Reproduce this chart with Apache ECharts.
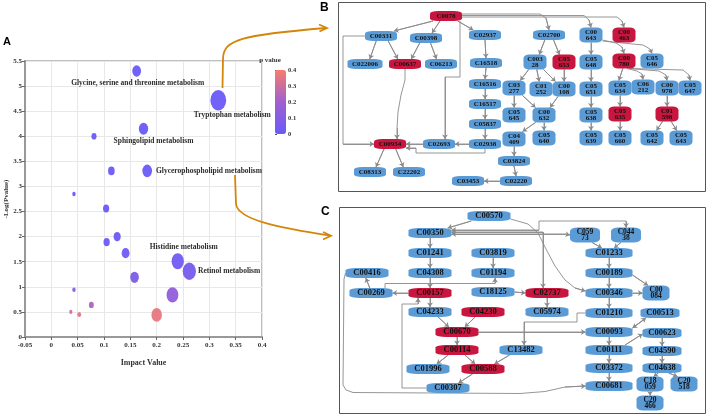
<!DOCTYPE html>
<html><head><meta charset="utf-8">
<script src="https://cdn.jsdelivr.net/npm/echarts@6/dist/echarts.min.js"></script>
<style>html,body{margin:0;padding:0;background:#fff}#c{width:708px;height:416px}</style>
</head><body><div id="c"></div>
<script>
// ---------------- Panel A data ----------------
const impactValues = [0.162,0.317,0.175,0.081,0.114,0.182,0.043,0.104,0.105,0.125,0.141,0.240,0.262,0.158,0.230,0.043,0.076,0.200,0.053,0.037];
const negLogP      = [5.30,4.72,4.15,4.00,3.31,3.31,2.85,2.56,1.89,2.00,1.67,1.51,1.31,1.19,0.84,0.94,0.64,0.44,0.45,0.50];
const pathwayNames = ['Glycine, serine and threonine metabolism','Tryptophan metabolism','Sphingolipid metabolism','','','Glycerophospholipid metabolism','','','','','','Histidine metabolism','Retinol metabolism','','','','','','',''];

// ---------------- Panel B network ----------------
const bLabels = ['C0078','C00331','C00398','C02937','C022006','C00637','C06213','C16518','C16516','C16517','C05837','C02938','C02693','C00954','C08313','C22202','C03453','C02220','C03824','C02700',
 'C00\n643','C00\n463','C003\n28','C05\n653','C05\n648','C00\n780','C05\n646','C03\n277','C01\n252','C00\n108','C05\n651','C05\n634','C06\n212','C00\n978','C05\n647','C05\n645','C00\n632','C05\n638','C05\n635','C01\n598','C04\n409','C05\n640','C05\n639','C05\n660','C05\n642','C05\n643'];
const bRed = ['C0078','C00637','C00954','C00463','C05653','C00780','C05635','C01598'];
const bEdges = [
 ['C0078','C00331'],['C0078','C00398'],['C0078','C02937'],
 ['C00331','C022006'],['C00331','C00637'],['C00398','C00637'],['C00398','C06213'],
 ['C02937','C16518'],['C16518','C16516'],['C16516','C16517'],['C16517','C05837'],['C05837','C02938'],
 ['C02938','C02693'],['C02693','C00954'],['C00954','C08313'],['C00954','C22202'],
 ['C04409','C03824'],['C03824','C02220'],['C02220','C03453'],
 ['C02700','C00328'],['C02700','C05653'],['C00328','C03277'],['C00328','C01252'],['C00328','C00108'],['C05653','C00108'],
 ['C03277','C05645'],['C03277','C00632'],['C00108','C00632'],['C00632','C04409'],['C00632','C05640'],
 ['C00643','C05648'],['C05648','C05651'],['C05651','C05638'],['C05638','C05639'],
 ['C00780','C05634'],['C05634','C05635'],['C05635','C05660'],
 ['C00978','C01598'],['C01598','C05642'],['C01598','C05643']
];

// ---------------- Panel C network ----------------
const cLabels = ['C00570','C00350','C01241','C04308','C00157','C04233','C03819','C01194','C18125','C04230','C00416','C00269','C00670','C00114','C01996','C00588','C00307','C13482',
 'C059\n73','C044\n38','C01233','C00189','C00346','C00\n084','C02737','C05974','C01210','C00513','C00093','C00623','C00111','C04590','C03372','C04638','C00681','C18\n059','C20\n518','C20\n466'];
const cRed = ['C00157','C02737','C04230','C00670','C00114','C00588'];
const cEdges = [
 ['C00570','C00350'],['C00350','C01241'],['C01241','C04308'],['C04308','C00157'],['C00157','C04233'],
 ['C03819','C01194'],['C00157','C00269'],['C00269','C00416'],['C18125','C02737'],['C02737','C05974'],
 ['C04233','C00670'],['C04230','C00670'],['C00670','C00114'],['C00670','C00093'],['C00114','C01996'],['C00114','C00588'],
 ['C13482','C00588'],['C00588','C00307'],
 ['C05973','C01233'],['C04438','C01233'],['C01233','C00189'],['C00189','C00346'],['C00346','C01210'],['C00346','C00084'],
 ['C00093','C00111'],['C00111','C03372'],['C03372','C00681'],['C00623','C04590'],['C04590','C04638'],
 ['C04638','C18059'],['C04638','C20518'],['C18059','C20466']
];

// ---------------- layout (positions of diagram boxes, px-units of the layout grid) ----------------
const layoutB = {C0078:[446,16],C00331:[381,36],C00398:[426,38],C02937:[485,35],C022006:[365,64],C00637:[405,64],C06213:[441,64],
 C16518:[486,63],C16516:[485,84],C16517:[485,104],C05837:[485,124],C02938:[485,144],C02693:[439,144],C00954:[390,144],
 C08313:[370,172],C22202:[409,172],C03453:[468,181],C02220:[516,181],C03824:[514,161],C02700:[549,35],C00643:[591,35],C00463:[624,35],
 C00328:[535,62],C05653:[564,62],C05648:[591,62],C00780:[624,61],C05646:[652,61],C03277:[514,88],C01252:[541,89],C00108:[564,89],
 C05651:[591,89],C05634:[620,88],C06212:[643,87],C00978:[667,88],C05647:[690,88],C05645:[514,115],C00632:[544,115],C05638:[591,115],
 C05635:[620,114],C01598:[667,114],C04409:[514,139],C05640:[544,138],C05639:[591,138],C05660:[620,138],C05642:[652,138],C05643:[681,138]};
const layoutC = {C00570:[489,216],C00350:[430,233],C01241:[430,253],C04308:[430,273],C00157:[430,293],C04233:[430,312],C03819:[493,253],
 C01194:[493,273],C18125:[493,292],C04230:[483,312],C00416:[367,273],C00269:[371,293],C00670:[457,332],C00114:[457,350],C01996:[428,369],
 C00588:[483,369],C00307:[448,388],C13482:[521,350],C05973:[585,235],C04438:[626,235],C01233:[609,253],C00189:[609,273],C00346:[609,293],
 C00084:[656,293],C02737:[547,293],C05974:[547,312],C01210:[609,313],C00513:[660,313],C00093:[609,332],C00623:[662,333],C00111:[609,350],
 C04590:[662,351],C03372:[609,368],C04638:[662,368],C00681:[609,386],C18059:[650,384],C20518:[684,384],C20466:[650,403]};
const widthC = {C01233:47,C00189:47,C00346:47,C01210:47,C00093:47,C00111:47,C03372:47,C00681:47,C00513:39,C00623:39,C04590:39,C04638:39,C05973:30,C04438:30};

// routed connectors: [from, fromSide, fromOffset, via points, to, toSide, toOffset, bothEnds]
const routesB = [
 ['C0078','R',-2,[[540,14],[546,18]],'C02700','T',0,false],
 ['C0078','R',-0.5,[[584,15.5],[589,20]],'C00643','T',0,false],
 ['C0078','R',1,[[617,17],[622,21]],'C00463','T',0,false],
 ['C00331','L',0,[[343,36],[343,144]],'C00954','L',0,false],
 ['C00637','B',0,[[405,80],[401,95],[398,112],[397,128]],'C00954','T',7,false],
 ['C0078','B',14,[[460,77],[445,77]],'C02693','T',6,false],
 ['C02938','B',0,[[485,153],[416,153],[416,148]],'C00954','R',4,false],
 ['C00643','R',5,[[616,43],[622,47]],'C00780','T',0,false],
 ['C00643','R',6,[[643,45],[650,49]],'C05646','T',0,false],
 ['C00780','B',3,[[637,71],[642,74]],'C06212','T',0,false],
 ['C00780','B',5,[[659,71],[666,75]],'C00978','T',0,false],
 ['C00780','B',7,[[683,70],[689,75]],'C05647','T',0,false]
];
const routesC = [
 ['C00570','R',3,[[528,224],[538,233],[546,249],[555,266],[565,280],[575,288]],'C00346','L',-2,false],
 ['C00350','R',1,[[565,234]],'C05973','L',0,true],
 ['C00350','R',-3,[[539,230],[539,221],[626,221]],'C04438','T',0,true],
 ['C00350','R',-1,[[543,232]],'C02737','T',-4,true],
 ['C00269','T',14,[[385,283.5],[495,283.5]],'C01194','B',2,false],
 ['C01210','L',0,[[577,313],[577,322],[524,322]],'C13482','T',3,false],
 ['C00307','L',0,[[402,388],[402,304],[418,304]],'C00157','B',-12,false],
 ['C00416','L',0,[[344,279],[343,385],[346,390],[353,392.5],[520,393.5],[545,391.5],[565,387]],'C00681','L',0,false],
 ['C00189','R',2,[],'C00084','T',-8,false],
 ['C00093','R',-4,[],'C00513','B',-14,true],
 ['C00111','T',16,[],'C00623','L',1,false]
];

// ---------------- helpers ----------------
function buildNodes(labels, layout, reds, panel){
  const nodes = {};
  labels.forEach(lb => {
    const id = lb.replace('\n','');
    const two = lb.indexOf('\n') >= 0;
    let w, h;
    if (panel === 'B') { w = two ? 23 : (id.length > 6 ? 35 : 32); h = two ? 15 : 10; }
    else { w = widthC[id] || (two ? 27 : 43); h = two ? 15 : 10; }
    nodes[id] = {id, label: lb, x: layout[id][0], y: layout[id][1], w, h, red: reds.includes(id), two, panel};
  });
  return nodes;
}
const nodesB = buildNodes(bLabels, layoutB, bRed, 'B');
const nodesC = buildNodes(cLabels, layoutC, cRed, 'C');
function anchor(n, side, off){
  off = off || 0;
  if (side === 'T') return [n.x + off, n.y - n.h/2];
  if (side === 'B') return [n.x + off, n.y + n.h/2];
  if (side === 'L') return [n.x - n.w/2, n.y + off];
  return [n.x + n.w/2, n.y + off];
}
const clamp = (v,a,b) => Math.max(a, Math.min(b, v));
function autoEdge(p, c){
  const dx = c.x - p.x, dy = c.y - p.y;
  if (Math.abs(dy) < 4) {
    return dx > 0 ? [anchor(p,'R'), anchor(c,'L')] : [anchor(p,'L'), anchor(c,'R')];
  }
  const so = Math.abs(dx) < 3 ? 0 : clamp(dx*0.3, -p.w/2+3, p.w/2-3);
  const eo = Math.abs(dx) < 3 ? 0 : clamp(-dx*0.3, -c.w/2+3, c.w/2-3);
  if (Math.abs(dx) < 6) { return dy > 0 ? [anchor(p,'B',so), anchor(c,'T',so)] : [anchor(p,'T',so), anchor(c,'B',so)]; }
  return dy > 0 ? [anchor(p,'B',so), anchor(c,'T',eo)] : [anchor(p,'T',so), anchor(c,'B',eo)];
}
const edgeBodies = [], edgeHeads = [], edgeTails = [];
function addEdges(nodes, edges, routes){
  edges.forEach(([a,b]) => {
    const pts = autoEdge(nodes[a], nodes[b]);
    edgeBodies.push({coords: pts});
    edgeHeads.push({coords: pts});
  });
  routes.forEach(r => {
    const pts = [anchor(nodes[r[0]], r[1], r[2])].concat(r[3]).concat([anchor(nodes[r[4]], r[5], r[6])]);
    edgeBodies.push({coords: pts});
    edgeHeads.push({coords: pts.slice(-2)});
    if (r[7]) edgeTails.push({coords: [pts[1], pts[0]]});
  });
}
addEdges(nodesB, bEdges, routesB);
addEdges(nodesC, cEdges, routesC);

const BLUE = '#5b9bd5', RED = '#c8163f';
function nodeData(nodes){
  return Object.values(nodes).map(n => ({
    value: [n.x, n.y],
    name: n.label,
    symbolSize: [n.w, n.h],
    itemStyle: {color: n.red ? RED : BLUE},
    label: n.two
      ? {formatter: '{t|' + n.label.replace('\n', '}\n{t|') + '}',
         rich: {t: {fontSize: n.panel === 'B' ? 7 : 7.5, lineHeight: 6.5, fontFamily: serif, fontWeight: 'bold', color: '#111'}}}
      : {fontSize: n.panel === 'B' ? 7 : 8.5}
  }));
}

// ---------------- panel A series data ----------------
const labelCfg = {
  0: {position:'bottom', distance:2, offset:[1,0]},
  1: {position:'bottom', distance:1, offset:[14,0]},
  2: {position:'bottom', distance:2, offset:[10,0]},
  5: {position:'right', distance:4},
  11:{position:'top', distance:2, offset:[6,0]},
  12:{position:'right', distance:2}
};
const bubbleData = impactValues.map((x,i) => {
  const item = {value: [x, negLogP[i], Math.pow(10, -negLogP[i])], name: pathwayNames[i]};
  if (pathwayNames[i]) item.label = Object.assign({show:true}, labelCfg[i]);
  return item;
});

var serif = 'Liberation Serif';
const ORANGE = '#d4860b';
const chart = echarts.init(document.getElementById('c'), null, {renderer:'canvas'});
chart.setOption({
  animation: false,
  backgroundColor: '#fff',
  grid: [
    {left:25, top:61, right:446, bottom:79, show:true, borderColor:'#aaa', borderWidth:1.5, backgroundColor:'transparent'},
    {left:275, top:70, width:11, height:64},
    {left:0, top:0, right:0, bottom:0}
  ],
  xAxis: [
    {gridIndex:0, type:'value', min:-0.05, max:0.4, interval:0.05,
     name:'Impact Value', nameLocation:'middle', nameGap:22,
     nameTextStyle:{fontFamily:serif, fontWeight:'bold', fontSize:8, color:'#333'},
     axisLine:{show:true, onZero:false, lineStyle:{color:'#999', width:2}},
     axisTick:{show:true, length:3, lineStyle:{color:'#666'}},
     axisLabel:{fontFamily:serif, fontWeight:'bold', fontSize:7, color:'#333', margin:5, interval:0},
     splitLine:{show:true, lineStyle:{color:'#e8e8e8'}}},
    {gridIndex:1, type:'value', show:false},
    {gridIndex:2, type:'value', min:0, max:708, show:false}
  ],
  yAxis: [
    {gridIndex:0, type:'value', min:0, max:5.5, interval:0.5,
     name:'-Log(Pvalue)', nameLocation:'middle', nameGap:15,
     nameTextStyle:{fontFamily:serif, fontWeight:'bold', fontSize:7, color:'#333'},
     axisLine:{show:true, onZero:false, lineStyle:{color:'#999', width:2}},
     axisTick:{show:true, length:3, lineStyle:{color:'#666'}},
     axisLabel:{fontFamily:serif, fontWeight:'bold', fontSize:7, color:'#333', margin:3},
     splitLine:{show:true, lineStyle:{color:'#e8e8e8'}}},
    {gridIndex:1, type:'value', min:0, max:0.4, interval:0.1, position:'right',
     name:'p value', nameLocation:'end', nameGap:6,
     nameTextStyle:{fontFamily:serif, fontWeight:'bold', fontSize:7, color:'#333', align:'center', padding:[0,0,0,-10]},
     axisLine:{show:false}, axisTick:{show:true, length:2, lineStyle:{color:'#555'}},
     axisLabel:{fontFamily:serif, fontWeight:'bold', fontSize:6.5, color:'#333', margin:2},
     splitLine:{show:false}},
    {gridIndex:2, type:'value', min:0, max:416, inverse:true, show:false}
  ],
  visualMap: {
    type:'continuous', min:0, max:0.4, dimension:2, seriesIndex:0,
    left:275, top:70, itemWidth:11, itemHeight:64, padding:0, text:['',''], calculable:false,
    inRange:{color:['#6a5af7','#a060d0','#f77c6c']}
  },
  series: [
    {type:'scatter', xAxisIndex:0, yAxisIndex:0, data: bubbleData,
     symbolSize: v => { const w = 45*v[0] + 1.5; return [w, w*1.3]; },
     itemStyle:{opacity:0.95},
     label:{show:false, formatter:'{b}', fontFamily:serif, fontWeight:'bold', fontSize:7.5, color:'#222'},
     emphasis:{disabled:true}},
    {type:'lines', coordinateSystem:'cartesian2d', xAxisIndex:2, yAxisIndex:2, polyline:true,
     data: edgeBodies, lineStyle:{color:'#8a8a8a', width:0.9, opacity:1}, symbol:'none', z:3, silent:true},
    {type:'lines', coordinateSystem:'cartesian2d', xAxisIndex:2, yAxisIndex:2,
     data: edgeHeads, lineStyle:{color:'#8a8a8a', width:0.9, opacity:1}, symbol:['none','arrow'], symbolSize:4.5, z:3, silent:true},
    {type:'lines', coordinateSystem:'cartesian2d', xAxisIndex:2, yAxisIndex:2,
     data: edgeTails, lineStyle:{color:'#8a8a8a', width:0.9, opacity:1}, symbol:['none','arrow'], symbolSize:4.5, z:3, silent:true},
    {type:'scatter', xAxisIndex:2, yAxisIndex:2, symbol:'roundRect', data: nodeData(nodesB).concat(nodeData(nodesC)),
     itemStyle:{opacity:1}, z:5, silent:true,
     label:{show:true, position:'inside', formatter:'{b}', fontFamily:serif, fontWeight:'bold', color:'#111'},
     emphasis:{disabled:true}}
  ],
  graphic: [
    {type:'text', left:3, top:36, style:{text:'A', font:'bold 11px Liberation Sans', fill:'#000'}},
    {type:'text', left:320, top:2, style:{text:'B', font:'bold 12px Liberation Sans', fill:'#000'}},
    {type:'text', left:321, top:206, style:{text:'C', font:'bold 12px Liberation Sans', fill:'#000'}},
    {type:'rect', shape:{x:338.5, y:2.5, width:367, height:189}, style:{fill:'none', stroke:'#555', lineWidth:1}, z:1},
    {type:'rect', shape:{x:339.5, y:207.5, width:366, height:206}, style:{fill:'none', stroke:'#555', lineWidth:1}, z:1},
    {type:'line', shape:{x1:222.5, y1:88, x2:223, y2:58}, style:{stroke:ORANGE, lineWidth:1.8}, z:10},
    {type:'bezierCurve', shape:{x1:223, y1:58, cpx1:224, cpy1:40, cpx2:240, cpy2:35, x2:326, y2:28}, style:{fill:'none', stroke:ORANGE, lineWidth:1.8}, z:10},
    {type:'polyline', shape:{points:[[319,24.5],[327,28],[319.5,31.5]]}, style:{fill:'none', stroke:ORANGE, lineWidth:1.8}, z:10},
    {type:'line', shape:{x1:235, y1:175, x2:236, y2:204}, style:{stroke:ORANGE, lineWidth:1.8}, z:10},
    {type:'bezierCurve', shape:{x1:236, y1:204, cpx1:238, cpy1:220, cpx2:280, cpy2:228, x2:330, y2:235.7}, style:{fill:'none', stroke:ORANGE, lineWidth:1.8}, z:10},
    {type:'polyline', shape:{points:[[323,232],[331,235.7],[323,239.5]]}, style:{fill:'none', stroke:ORANGE, lineWidth:1.8}, z:10}
  ]
});
</script></body></html>
